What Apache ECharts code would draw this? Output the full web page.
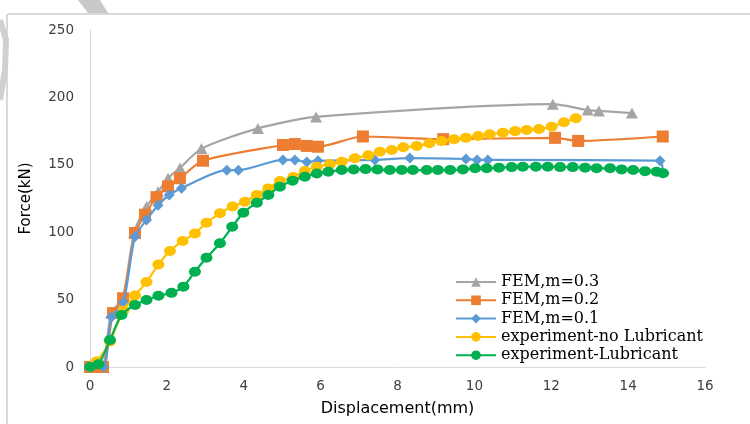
<!DOCTYPE html>
<html><head><meta charset="utf-8">
<script src="https://cdn.jsdelivr.net/npm/echarts@6/dist/echarts.min.js"></script>
<style>html,body{margin:0;padding:0;background:#fff}#c{width:750px;height:424px}</style>
</head><body><div id="c"></div>
<script>
const seriesNames = ['FEM,m=0.3','FEM,m=0.2','FEM,m=0.1','experiment-no Lubricant','experiment-Lubricant'];
const xTicks = [0,2,4,6,8,10,12,14,16];
const yTicks = [0,50,100,150,200,250];

const fem03X = [0,0.3,0.55,0.85,1.15,1.47,1.77,2.03,2.34,2.9,4.37,5.88,12.04,12.95,13.24,14.1];
const fem03Y = [0,0,40,51,100,119,130,140,147.6,162,177,185.5,195,190.6,190,188.4];

const fem02X = [0,0.17,0.34,0.6,0.86,1.17,1.43,1.73,2.03,2.34,2.94,5.02,5.33,5.64,5.93,7.1,9.19,12.1,12.7,14.9];
const fem02Y = [0,0,0,40,51,99.4,113,126,134,140,153,164.7,165.4,164,163.4,171,169,170,167.7,171];

const fem01X = [0,0.35,0.56,0.87,1.17,1.47,1.77,2.06,2.38,3.56,3.86,5.02,5.33,5.64,5.93,7.41,8.32,9.78,10.07,10.35,14.83,14.9];
const fem01Y = [0,0,37,48,96.7,109,120,127.6,132.6,146,146,153.6,153.6,152,153,153.6,155,154.3,153.6,153.6,153,144];

const noLubX = [0,0.17,0.52,0.87,1.17,1.47,1.78,2.08,2.41,2.73,3.03,3.38,3.71,4.03,4.34,4.64,4.94,5.29,5.59,5.9,6.24,6.55,6.89,7.24,7.54,7.85,8.15,8.5,8.83,9.15,9.47,9.78,10.1,10.4,10.74,11.06,11.36,11.68,12.01,12.33,12.64];
const noLubY = [0,4,19,42,53,63,76,86,93.5,99,107,114,119,122.6,127.6,132.5,138,141,145.4,148.6,150.6,152.3,154.8,157,159.7,161,163,164,166,167.6,169,170,171.4,172.6,173.8,175,175.8,176.6,178.3,181.5,184.5];

const lubX = [0,0.22,0.52,0.82,1.17,1.47,1.78,2.12,2.43,2.73,3.03,3.38,3.7,3.99,4.34,4.64,4.94,5.27,5.59,5.9,6.2,6.55,6.86,7.17,7.48,7.8,8.11,8.4,8.76,9.05,9.37,9.7,10.02,10.32,10.64,10.97,11.26,11.6,11.91,12.23,12.56,12.88,13.18,13.53,13.83,14.13,14.44,14.74,14.91];
const lubY = [0,2,20,38.6,46,49.7,52.9,55,59.6,70.7,81,91.8,104,114.5,121.9,127.6,133.8,138.2,141.2,143.6,144.9,146.1,146.5,146.8,146.5,146.1,146.1,146.1,146.1,146.1,146.1,146.6,147.4,147.4,147.9,148.3,148.6,148.6,148.6,148.3,148.3,147.9,147.4,147.4,146.6,146.1,145.3,144.9,143.7];

const colors = ['#A5A5A5','#ED7D31','#5B9BD5','#FFC000','#00B050'];
const zip = (a,b)=>a.map((v,i)=>[v,b[i]]);
const datasets = [zip(fem03X,fem03Y),zip(fem02X,fem02Y),zip(fem01X,fem01Y),zip(noLubX,noLubY),zip(lubX,lubY)];
const symbols = ['triangle','rect','diamond','circle','circle'];
const sizes = [[12,11],[12,12],[11,11],[12,10],[12,10]];

const chart = echarts.init(document.getElementById('c'), null, {renderer:'canvas'});
chart.setOption({
  animation:false,
  backgroundColor:'#fff',
  color:colors,
  grid:{left:90,right:45,top:30,bottom:57,containLabel:false},
  xAxis:{type:'value',min:0,max:16,interval:2,
    name:'Displacement(mm)',nameLocation:'middle',nameGap:34,
    nameTextStyle:{fontFamily:'DejaVu Sans',fontSize:16,color:'#000'},
    axisLine:{show:true,lineStyle:{color:'#d9d9d9',width:1}},
    axisTick:{show:false},splitLine:{show:false},
    axisLabel:{fontFamily:'DejaVu Sans',fontSize:13.5,color:'#404040',margin:12}},
  yAxis:{type:'value',min:0,max:250,interval:50,
    name:'Force(kN)',nameLocation:'middle',nameGap:56,nameRotate:90,
    nameTextStyle:{fontFamily:'DejaVu Sans',fontSize:15,color:'#000'},
    axisLine:{show:true,lineStyle:{color:'#d9d9d9',width:1}},
    axisTick:{show:false},splitLine:{show:false},
    axisLabel:{fontFamily:'DejaVu Sans',fontSize:13.5,color:'#404040',margin:16}},
  legend:{orient:'vertical',left:455,top:274,itemWidth:40,itemHeight:12,itemGap:2.3,padding:0,
    textStyle:{fontFamily:'DejaVu Serif',fontSize:16,lineHeight:14,color:'#000'},
    data:seriesNames},
  graphic:[
    {type:'line',shape:{x1:8,y1:14,x2:750,y2:14},style:{stroke:'#d9d9d9',lineWidth:2},z:-1},
    {type:'line',shape:{x1:7,y1:14,x2:7,y2:424},style:{stroke:'#d9d9d9',lineWidth:2},z:-1},
    {type:'polygon',shape:{points:[[78,0],[100,0],[108,13],[88,13]]},style:{fill:'#c8c8c8'},z:-1},
    {type:'polyline',shape:{points:[[0,20],[6,40],[5,70],[0,100]]},style:{stroke:'#d0d0d0',lineWidth:6,fill:null},z:-1}
  ],
  series: datasets.map((d,i)=>({
    name:seriesNames[i],type:'line',data:d,smooth:0.25,
    symbol:symbols[i],symbolSize:sizes[i],
    lineStyle:{width:2.2,color:colors[i]},
    itemStyle:{color:colors[i]},
    z:2+i
  }))
});
</script></body></html>
